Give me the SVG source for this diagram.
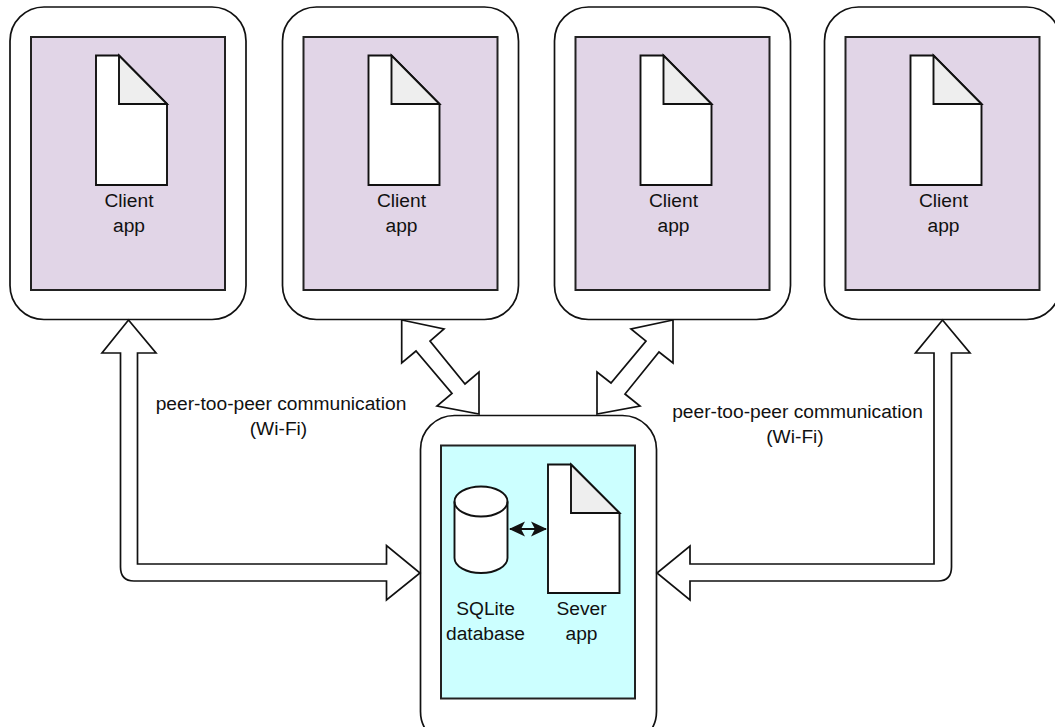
<svg xmlns="http://www.w3.org/2000/svg" width="1055" height="727" viewBox="0 0 1055 727">
<defs>
<style>
.o{fill:#fff;stroke:#111;stroke-width:1.7}
.p{fill:#e1d5e7;stroke:#222;stroke-width:2}
.c{fill:#ccffff;stroke:#222;stroke-width:2}
.d{fill:#fff;stroke:#111;stroke-width:1.9;stroke-linejoin:miter}
.f{fill:#eee;stroke:#111;stroke-width:1.9}
.a{fill:#fff;stroke:#111;stroke-width:1.7;stroke-linejoin:miter}
text{font-family:"Liberation Sans",Arial,sans-serif;font-size:19.2px;fill:#111;text-anchor:middle}
</style>
<g id="tablet">
<rect class="o" x="10" y="7" width="236" height="312.5" rx="34" ry="34"/>
<rect class="p" x="31" y="37" width="194" height="253"/>
<path class="d" d="M96 55.500H119L167 104V185H96Z"/>
<path class="f" d="M119 55.500L167 104H119Z"/>
<text x="129" y="207">Client</text>
<text x="129" y="232">app</text>
</g>
<marker id="ah" viewBox="0 0 16 16" refX="15" refY="8" markerWidth="16" markerHeight="16" markerUnits="userSpaceOnUse" orient="auto-start-reverse"><path d="M0 0.500L16 8L0 15.500L4 8Z" fill="#111"/></marker>
</defs>
<rect width="1055" height="727" fill="#fff"/>
<g id="client-1"><use href="#tablet"/></g>
<g id="client-2"><use href="#tablet" x="272.500"/></g>
<g id="client-3"><use href="#tablet" x="544.500"/></g>
<g id="client-4"><use href="#tablet" x="814.500"/></g>
<g id="server">
<rect class="o" x="420.500" y="415.500" width="236" height="330" rx="34" ry="34"/>
<rect class="c" x="441" y="445.500" width="194" height="253"/>
<path class="d" d="M548 464.500H571L619.500 513V593H548Z"/>
<path class="f" d="M571 464.500L619.500 513H571Z"/>
<path class="d" d="M454.500 501.500A26.500 15 0 0 1 507.500 501.500V558A26.500 15 0 0 1 454.500 558Z"/>
<path class="d" d="M454.500 501.500A26.500 15 0 0 0 507.500 501.500" style="fill:none"/>
<text x="485.500" y="615">SQLite</text>
<text x="485.500" y="640">database</text>
<text x="581.500" y="615">Sever</text>
<text x="581.500" y="640">app</text>
</g>
<g id="connectors">
<path class="a" d="M128.500 320L156 353H137.500V564H386.500V545.500L420 573L386.500 600V581H134Q120.500 581 120.500 567V353H102Z"/>
<path class="a" d="M942.500 320L970 353H951.500V567Q951.500 581 938 581H690V600L657 573L690 546V564H934V353H915.500Z"/>
<path class="a" d="M401.700 320L444 329L430 341L465 384L479 372V414L437 406L452 393.500L416 351L401.700 363Z"/>
<path class="a" d="M673 320V363L659 352L625 394L640 406L597 414V372L611 383L646 341L631 329Z"/>
<path d="M510 529H546" stroke="#111" stroke-width="2" fill="none" marker-start="url(#ah)" marker-end="url(#ah)"/>
</g>
<g id="labels">
<text x="281" y="410">peer-too-peer communication</text>
<text x="278.500" y="435">(Wi-Fi)</text>
<text x="797.500" y="418">peer-too-peer communication</text>
<text x="795" y="443">(Wi-Fi)</text>
</g>
</svg>
